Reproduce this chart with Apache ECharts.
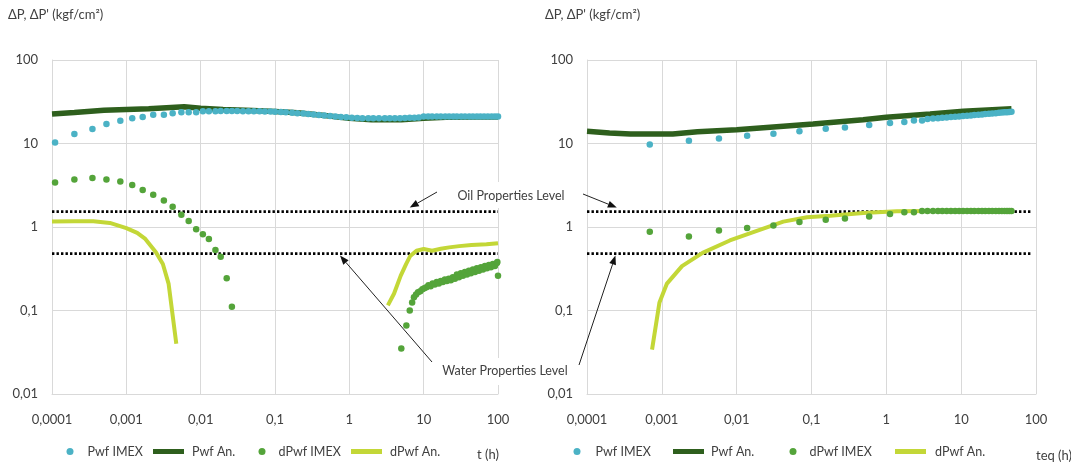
<!DOCTYPE html>
<html><head><meta charset="utf-8">
<script src="https://cdn.jsdelivr.net/npm/echarts@6/dist/echarts.min.js"></script>
<style>html,body{margin:0;padding:0;background:#fff}#c{width:1071px;height:468px}</style>
</head><body><div id="c"></div>
<script>
// ---------- DATA ----------
const xTickLabels = ['0,0001','0,001','0,01','0,1','1','10','100'];
const yTickLabels = ['0,01','0,1','1','10','100'];
const seriesNames = ['Pwf IMEX','Pwf An.','dPwf IMEX','dPwf An.'];
const xTitleLeft = 't (h)';
const xTitleRight = 'teq (h)';
const yTitle = "ΔP, ΔP' (kgf/cm²)";
const oilLabel = 'Oil Properties Level';
const waterLabel = 'Water Properties Level';
const oilLevel = 1.53;
const waterLevel = 0.48;

// Left chart (t)
const tImexL = [1.1e-4,2.0e-4,3.5e-4,5.4e-4,8.3e-4,1.2e-3,1.66e-3,2.3e-3,3.2e-3,4.2e-3,5.5e-3,6.9e-3,8.7e-3,0.0107,0.0129,0.0158,0.0186,0.0224,0.0263,
  0.031,0.037,0.044,0.052,0.062,0.073,0.087,0.10,0.12,0.14,0.17,0.20,0.24,0.28,0.33,0.39,0.46,0.55,0.65,0.77,0.91,1.08,1.28,1.5,1.8,2.1,2.5,3.0,3.5,4.1,4.8,5.6,6.5,7.5,8.6,
  10,11.5,13,15,17,19.5,22,25,28,32,36,41,46,52,58,65,73,82,91,100];
const pwfImexL = [10.3,13.0,14.9,17.1,18.7,20.0,20.8,22.1,22.1,23.0,23.6,23.6,23.6,24.3,24.3,24.3,24.5,24.5,24.5,
  24.5,24.4,24.4,24.3,24.3,24.2,24.2,24.0,23.8,23.6,23.4,23.1,22.8,22.5,22.2,21.9,21.6,21.3,21.0,20.8,20.6,20.4,20.2,20.1,20.0,20.0,20.0,20.0,20.0,20.0,20.1,20.2,20.3,20.4,20.5,
  21.0,21.0,21.0,21.0,21.0,21.0,21.0,21.0,21.0,21.0,21.0,21.0,21.0,21.0,21.0,21.0,21.0,21.0,21.0,21.0];
const tAnL = [1e-4,2e-4,5e-4,1e-3,2e-3,4e-3,6e-3,0.01,0.02,0.05,0.1,0.2,0.5,1,2,5,10,20,50,100];
const pwfAnL = [22.5,23.5,25.0,25.5,26.0,27.0,27.5,26.5,25.5,24.8,24.2,23.3,21.5,20.0,19.3,19.2,20.0,20.6,20.8,20.8];
const tDerImexL1 = [1.1e-4,2.0e-4,3.5e-4,5.4e-4,8.3e-4,1.2e-3,1.66e-3,2.3e-3,3.2e-3,4.2e-3,5.5e-3,6.9e-3,8.7e-3,0.0107,0.0129,0.0158,0.0186,0.0224,0.0263];
const dpwfImexL1 = [3.4,3.7,3.85,3.7,3.5,3.18,2.77,2.44,2.07,1.75,1.40,1.18,0.94,0.82,0.72,0.53,0.44,0.243,0.111];
const tDerImexL2 = [5.0,5.85,6.5,7.0,7.4,7.9,8.4,9.0,9.6,10.2,10.9,11.6,12.4,13.2,14.1,15.0,16.0,17.0,18.1,19.3,20.5,21.8,23.2,24.7,26.3,28,29.8,31.7,33.7,35.9,38.2,40.6,43.2,46,49,52,55.4,59,62.7,66.7,71,75.5,80.3,85.4,90.8,96.6,98,100];
const dpwfImexL2 = [0.035,0.066,0.10,0.125,0.144,0.155,0.165,0.17,0.18,0.185,0.19,0.20,0.195,0.21,0.205,0.22,0.21,0.225,0.22,0.235,0.225,0.24,0.23,0.25,0.24,0.27,0.25,0.28,0.26,0.29,0.27,0.30,0.28,0.31,0.29,0.32,0.30,0.33,0.31,0.34,0.32,0.35,0.33,0.36,0.34,0.37,0.38,0.26];
const tDerAnL1 = [1e-4,2e-4,3.6e-4,6e-4,1e-3,1.4e-3,1.8e-3,2.5e-3,3.1e-3,3.7e-3,4.7e-3];
const dpwfAnL1 = [1.16,1.17,1.17,1.12,0.97,0.85,0.72,0.50,0.36,0.21,0.04];
const tDerAnL2 = [3.3,4.0,4.9,5.8,6.6,8.0,10,13,17,22,30,44,70,100];
const dpwfAnL2 = [0.115,0.16,0.26,0.36,0.45,0.52,0.545,0.52,0.55,0.57,0.59,0.61,0.62,0.64];

// Right chart (teq)
const tImexR = [6.9e-4,2.3e-3,5.8e-3,0.0138,0.031,0.069,0.155,0.28,0.59,1.12,1.74,2.34,3.0,3.55,4.2,4.9,5.6,6.4,7.3,8.3,9.4,10.6,12,13.5,15,17,19,21,23.5,26,29,32,35,38,41,44,47];
const pwfImexR = [9.7,10.8,11.5,12.4,13.1,14.0,15.0,15.5,16.6,17.6,18.1,18.8,18.9,19.7,19.9,20.1,20.3,20.5,20.7,20.9,21.1,21.3,21.5,21.7,21.9,22.1,22.3,22.5,22.7,22.9,23.1,23.3,23.5,23.6,23.7,23.8,24.0];
const dpwfImexR = [0.88,0.77,0.91,0.97,1.04,1.15,1.22,1.26,1.34,1.43,1.50,1.50,1.55,1.55,1.55,1.55,1.55,1.55,1.55,1.55,1.55,1.55,1.55,1.55,1.55,1.55,1.55,1.55,1.55,1.55,1.55,1.55,1.55,1.55,1.55,1.55,1.55];
const tAnR = [1e-4,2e-4,3.8e-4,1.4e-3,3e-3,0.01,0.042,0.105,0.49,1.0,3.85,10.7,47];
const pwfAnR = [14.0,13.4,13.0,13.0,13.8,14.6,16.1,17.1,19.3,20.6,22.6,24.3,26.0];
const tDerAnR = [7.4e-4,9.3e-4,1.17e-3,1.86e-3,3.5e-3,8.1e-3,0.0186,0.042,0.087,0.178,0.49,1.38,5,20,47];
const dpwfAnR = [0.034,0.125,0.21,0.34,0.49,0.69,0.90,1.16,1.31,1.36,1.47,1.54,1.55,1.55,1.55];
const levelSpanL = [1e-4,100];
const levelSpanR = [1e-4,85];

// ---------- STYLE ----------
const FONT = 'Lato, "Liberation Sans", sans-serif';
const TXT = '#404040';
const C_CYAN = '#4BB2C5', C_DARK = '#2E5F1D', C_GREEN = '#54A43A', C_YEL = '#C3D737';
const zip = (a,b) => a.map((v,i)=>[v,b[i]]);

function xAxis(gi){ return {type:'log', logBase:10, min:1e-4, max:100, gridIndex:gi,
  axisLine:{show:true, lineStyle:{color:'#d9d9d9', width:1}}, axisTick:{show:false},
  splitLine:{show:true, lineStyle:{color:'#d9d9d9', width:1}},
  axisLabel:{margin:19, color:TXT, fontFamily:FONT, fontSize:13,
    formatter:v=>xTickLabels[Math.round(Math.log10(v))+4]}}; }
function yAxis(gi){ return {type:'log', logBase:10, min:0.01, max:100, gridIndex:gi,
  axisLine:{show:true, lineStyle:{color:'#d9d9d9', width:1}}, axisTick:{show:false},
  splitLine:{show:true, lineStyle:{color:'#d9d9d9', width:1}},
  axisLabel:{margin:14, color:TXT, fontFamily:FONT, fontSize:13,
    formatter:v=>yTickLabels[Math.round(Math.log10(v))+2]}}; }

function levelSeries(gi, lvl, span){ return {type:'line', name:'_lvl', xAxisIndex:gi, yAxisIndex:gi, silent:true,
  symbol:'none', data:[[span[0],lvl],[span[1],lvl]], z:1,
  lineStyle:{color:'#000', width:2.6, type:[2.4,2.1]}}; }
function lineS(gi,name,data,color,w){ return {type:'line', name, xAxisIndex:gi, yAxisIndex:gi, data, symbol:'none',
  smooth:false, lineStyle:{color, width:w}, itemStyle:{color}, z:2}; }
function dotS(gi,name,data,color){ return {type:'scatter', name, xAxisIndex:gi, yAxisIndex:gi, data, symbol:'circle',
  symbolSize:6.5, itemStyle:{color, opacity:1}, z:3}; }

// one legend per entry so each sits where the reference puts it
function leg(name, isDot, left, pad){
  return {left, top:445, padding:0, orient:'horizontal', selectedMode:false,
    itemWidth: isDot ? 7 : 31, itemHeight: isDot ? 7 : 5,
    itemStyle:{borderWidth:0}, lineStyle:{width:0},
    data:[{name, icon: isDot ? 'circle' : 'rect'}],
    textStyle:{color:TXT, fontFamily:FONT, fontSize:12.5, padding:[0,0,0,pad]}};
}
const legends = [
  leg(seriesNames[0], true, 66.5, 9), leg(seriesNames[1], false, 153, 3),
  leg(seriesNames[2], true, 258.5, 8), leg(seriesNames[3], false, 351, 3),
  leg(seriesNames[0], true, 573.5, 10), leg(seriesNames[1], false, 673, 2),
  leg(seriesNames[2], true, 789.5, 8), leg(seriesNames[3], false, 895, 4)
];

const option = {
  animation:false,
  backgroundColor:'#fff',
  grid:[{left:52, top:60, width:446, height:334}, {left:587, top:60, width:449, height:334}],
  xAxis:[xAxis(0), xAxis(1)],
  yAxis:[yAxis(0), yAxis(1)],
  legend:legends,
  series:[
    levelSeries(0, oilLevel, levelSpanL), levelSeries(0, waterLevel, levelSpanL),
    levelSeries(1, oilLevel, levelSpanR), levelSeries(1, waterLevel, levelSpanR),
    lineS(0,'Pwf An.', zip(tAnL,pwfAnL), C_DARK, 5.5),
    lineS(0,'dPwf An.', zip(tDerAnL1,dpwfAnL1), C_YEL, 4),
    lineS(0,'dPwf An.', zip(tDerAnL2,dpwfAnL2), C_YEL, 4),
    dotS(0,'Pwf IMEX', zip(tImexL,pwfImexL), C_CYAN),
    dotS(0,'dPwf IMEX', zip(tDerImexL1,dpwfImexL1), C_GREEN),
    dotS(0,'dPwf IMEX', zip(tDerImexL2,dpwfImexL2), C_GREEN),
    lineS(1,'Pwf An.', zip(tAnR,pwfAnR), C_DARK, 5.5),
    lineS(1,'dPwf An.', zip(tDerAnR,dpwfAnR), C_YEL, 4),
    dotS(1,'Pwf IMEX', zip(tImexR,pwfImexR), C_CYAN),
    dotS(1,'dPwf IMEX', zip(tImexR,dpwfImexR), C_GREEN)
  ]
};

const chart = echarts.init(document.getElementById('c'), null, {renderer:'canvas'});
chart.setOption(option);

// annotations (arrows tied to level lines)
function arrow(from, to){
  const dx = to[0]-from[0], dy = to[1]-from[1], L = Math.hypot(dx,dy);
  const ux = dx/L, uy = dy/L, hl = 9, hw = 3.5;
  const bx = to[0]-ux*hl, by = to[1]-uy*hl;
  return [
    {type:'line', shape:{x1:from[0],y1:from[1],x2:bx,y2:by}, style:{stroke:'#222', lineWidth:1}, z:10},
    {type:'polygon', shape:{points:[to,[bx-uy*hw,by+ux*hw],[bx+uy*hw,by-ux*hw]]}, style:{fill:'#111'}, z:10}
  ];
}
const pL = (t,v)=>chart.convertToPixel({xAxisIndex:0,yAxisIndex:0},[t,v]);
const pR = (t,v)=>chart.convertToPixel({xAxisIndex:1,yAxisIndex:1},[t,v]);
const oilTipL = pL(6.5, oilLevel); oilTipL[1] -= 4;
const watTipL = pL(0.75, waterLevel); watTipL[1] += 2;
const oilTipR = pR(2.5e-4, oilLevel); oilTipR[1] -= 4;
const watTipR = pR(2.4e-4, waterLevel); watTipR[1] += 2;

const g = [];
g.push({type:'rect', shape:{x:440,y:182,width:146,height:26}, style:{fill:'#fff'}, z:8});
g.push({type:'rect', shape:{x:430,y:358,width:150,height:27}, style:{fill:'#fff'}, z:8});
g.push({type:'text', x:511, y:196, style:{text:oilLabel, font:'12.5px '+FONT, fill:TXT, align:'center', verticalAlign:'middle'}, z:11});
g.push({type:'text', x:505, y:371, style:{text:waterLabel, font:'12.5px '+FONT, fill:TXT, align:'center', verticalAlign:'middle'}, z:11});
g.push(...arrow([437,192], oilTipL));
g.push(...arrow([583,194], oilTipR));
g.push(...arrow([432,362], watTipL));
g.push(...arrow([579,365], watTipR));
g.push({type:'text', x:8, y:15, style:{text:yTitle, font:'13px '+FONT, fill:TXT, verticalAlign:'middle'}});
g.push({type:'text', x:545, y:15, style:{text:yTitle, font:'13px '+FONT, fill:TXT, verticalAlign:'middle'}});
g.push({type:'text', x:477, y:455, style:{text:xTitleLeft, font:'13px '+FONT, fill:TXT, verticalAlign:'middle'}});
g.push({type:'text', x:1036, y:456, style:{text:xTitleRight, font:'13px '+FONT, fill:TXT, verticalAlign:'middle'}});
chart.setOption({graphic:g});
</script></body></html>
